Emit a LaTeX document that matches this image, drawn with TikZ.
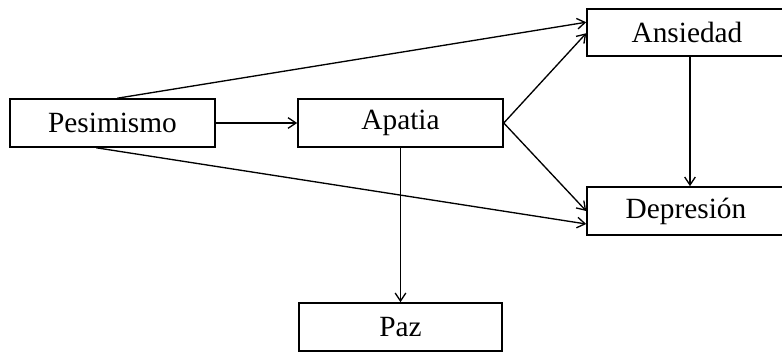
\documentclass[tikz,border=0pt]{standalone}
\usepackage{fontspec}
\setmainfont{Liberation Serif}
\usetikzlibrary{arrows.meta,calc}
\begin{document}
\begin{tikzpicture}[x=0.75pt,y=-0.75pt,
  box/.style={draw,line width=1.15pt,rectangle,inner sep=0pt,font=\fontsize{22}{26}\selectfont},
  conn/.style={line width=1pt,-{Straight Barb[length=6pt,width=8pt,line width=1pt]}}]
\useasboundingbox (0,0) rectangle (782,353);
\clip (0,0) rectangle (782,353);
\node[box,minimum width=153.75pt,minimum height=36pt] (pes) at (112.5,123) {Pesimismo};
\node[box,minimum width=153.75pt,minimum height=36pt] (apa) at (400.5,123) {Apatia};
\node[box,minimum width=150pt,minimum height=35.25pt] (ans) at (687,32.5) {Ansiedad};
\node[box,minimum width=148.5pt,minimum height=36pt] (dep) at (686,211) {Depresión};
\node[box,minimum width=152.25pt,minimum height=36pt] (paz) at (400.5,327) {Paz};
\draw[conn] (pes.east) -- (apa.west);
\draw[conn] ([xshift=81pt]pes.north west) -- ([yshift=-10.5pt]ans.north west);
\draw[conn] ([xshift=65.25pt]pes.south west) -- ([yshift=-9.75pt]dep.west);
\draw[conn] (apa.east) -- ([yshift=-18.75pt]ans.north west);
\draw[conn] (apa.east) -- (dep.west);
\draw[conn] ([xshift=2.25pt]ans.south) -- ([xshift=3pt]dep.north);
\draw[conn] (apa.south) -- (paz.north);
\end{tikzpicture}
\end{document}
